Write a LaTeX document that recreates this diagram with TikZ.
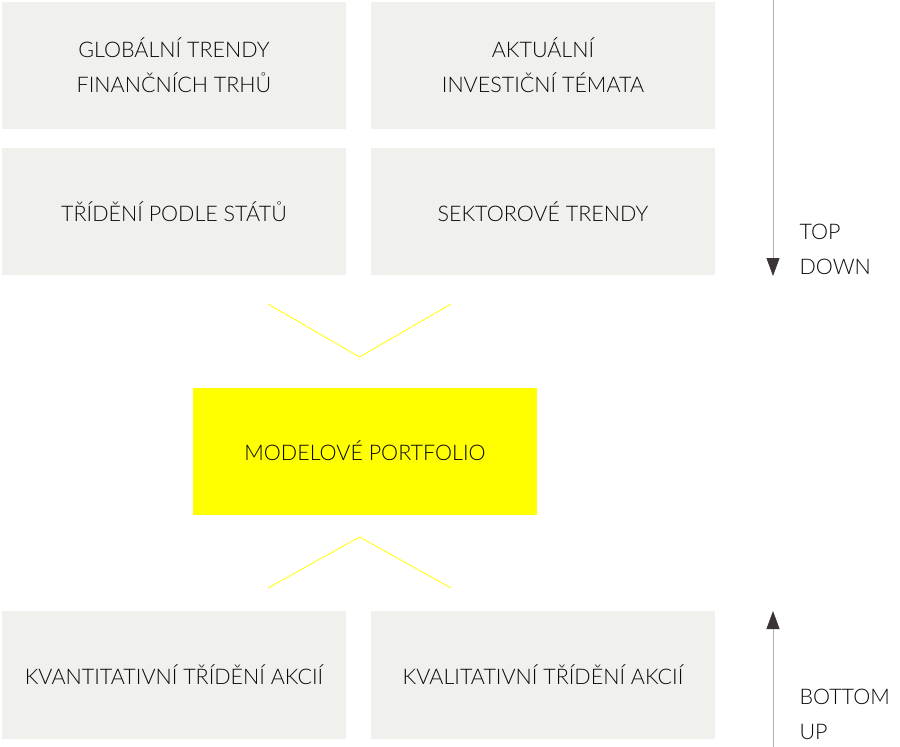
\documentclass[tikz,border=0pt]{standalone}
\usepackage{fontspec}
\setmainfont{Lato}[UprightFont={* Light}]
\usetikzlibrary{arrows.meta}
\definecolor{boxgray}{RGB}{240,240,236}
\definecolor{brightyellow}{RGB}{255,255,0}
\definecolor{tipdark}{RGB}{58,52,57}
\definecolor{linegray}{RGB}{178,178,178}
\definecolor{txt}{RGB}{10,10,10}

\begin{document}
\begin{tikzpicture}[x=1pt,y=-1pt,
	panel/.style={fill=boxgray,minimum width=344pt,minimum height=127pt,inner sep=0pt,
		text=txt,align=center,font=\fontsize{21.5}{35}\selectfont},
	chevron/.style={draw=brightyellow,line width=0.8pt},
	flow/.style={draw=linegray,line width=0.8pt,-{Triangle[width=13pt,length=18pt,color=tipdark]}},
	side/.style={anchor=west,text=txt,align=left,font=\fontsize{21.5}{35}\selectfont}]
	\useasboundingbox (0,0) rectangle (900,747);

	\node[panel] (Global) at (174,65.5) {GLOBÁLNÍ TRENDY\\FINANČNÍCH TRHŮ};
	\node[panel] (Themes) at (543,65.5) {AKTUÁLNÍ\\INVESTIČNÍ TÉMATA};
	\node[panel] (States) at (174,211.5) {TŘÍDĚNÍ PODLE STÁTŮ};
	\node[panel] (Sectors) at (543,211.5) {SEKTOROVÉ TRENDY};

	\node[panel,fill=brightyellow] (Portfolio) at (365,451) {MODELOVÉ PORTFOLIO};

	\node[panel,minimum height=128pt] (Quant) at (174,675) {KVANTITATIVNÍ TŘÍDĚNÍ AKCIÍ};
	\node[panel,minimum height=128pt] (Qual) at (543,675) {KVALITATIVNÍ TŘÍDĚNÍ AKCIÍ};

	\draw[chevron] (268,304) -- (359.5,357) -- (451,304);
	\draw[chevron] (268,588) -- (359.5,537) -- (451,588);

	\coordinate (TopStart) at (773,0);
	\coordinate (TopEnd) at (773,276);
	\coordinate (BottomStart) at (773,747);
	\coordinate (BottomEnd) at (773,611);
	\draw[flow] (TopStart) -- (TopEnd);
	\draw[flow] (BottomStart) -- (BottomEnd);

	\node[side] (TopDown) at (796,249.5) {TOP\\DOWN};
	\node[side] (BottomUp) at (796,714.5) {BOTTOM\\UP};
\end{tikzpicture}
\end{document}
